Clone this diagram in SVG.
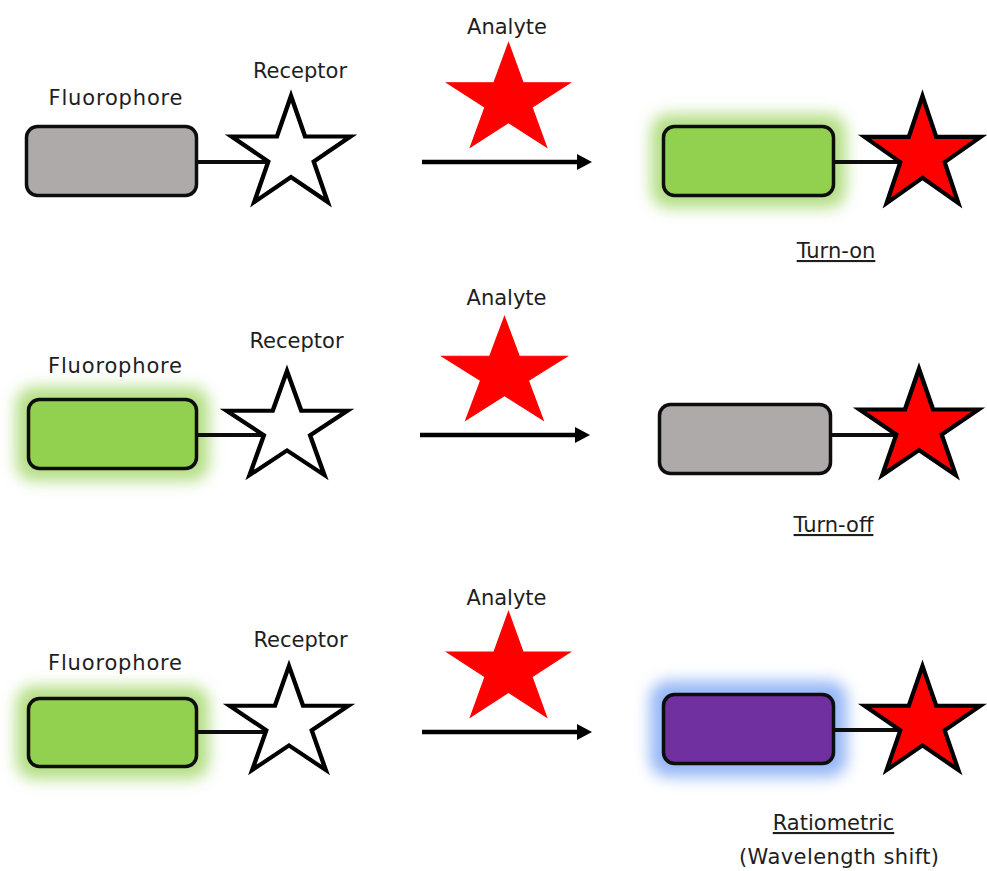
<svg xmlns="http://www.w3.org/2000/svg" xmlns:xlink="http://www.w3.org/1999/xlink" width="987" height="871" viewBox="0 0 987 871">
<style>
  text { font-family: "DejaVu Sans", "Noto Sans", sans-serif; font-size: 21px; fill: #1e1e1e; text-anchor: middle; }
  .u { text-decoration: underline; }
  .box { stroke: #0d0d0d; stroke-width: 3.5; }
  .gray { fill: #AEAAAA; }
  .green { fill: #92D050; }
  .purple { fill: #7030A0; }
  .glowG { fill: #a6d86e; opacity: 0.85; }
  .glowB { fill: #8fb2f5; opacity: 0.95; }
  .link { stroke: #0d0d0d; stroke-width: 4; fill: none; }
  .arrow { stroke: #000; stroke-width: 4.5; fill: none; }
  .head { fill: #000; }
  .rstar { fill: #fff; stroke: #000; stroke-width: 3.5; vector-effect: non-scaling-stroke; stroke-linejoin: miter; }
  .astar { fill: #FF0000; stroke: #FF0000; stroke-width: 1; vector-effect: non-scaling-stroke; }
  .bstar { fill: #FF0000; stroke: #000; stroke-width: 3.5; vector-effect: non-scaling-stroke; }
</style>
<defs>
  <polygon id="star" points="0,-50 11.23,-15.45 47.55,-15.45 18.16,5.9 29.39,40.45 0,19.1 -29.39,40.45 -18.16,5.9 -47.55,-15.45 -11.23,-15.45"/>
  <filter id="blur" x="-40%" y="-80%" width="180%" height="260%">
    <feGaussianBlur stdDeviation="7.5"/>
  </filter>
</defs>
<rect width="987" height="871" fill="#fff"/>

<!-- Fluorophore / signal boxes -->
<g id="fluorophore1">
  <rect class="box gray" x="26.5" y="126.5" width="170" height="69" rx="11"/>
  <text x="115.5" y="105" textLength="134">Fluorophore</text>
</g>
<g id="turnon">
  <rect class="glowG" x="651" y="114" width="195" height="94" rx="18" filter="url(#blur)"/>
  <rect class="box green" x="663.5" y="126.5" width="170" height="69" rx="11"/>
  <text class="u" x="836" y="258" font-size="20">Turn-on</text>
</g>
<g id="fluorophore2">
  <rect class="glowG" x="16" y="387" width="193" height="94" rx="18" filter="url(#blur)"/>
  <rect class="box green" x="28.5" y="399.5" width="168" height="69" rx="11"/>
  <text x="115" y="373" textLength="134">Fluorophore</text>
</g>
<g id="turnoff">
  <rect class="box gray" x="659.5" y="404.5" width="171" height="69" rx="11"/>
  <text class="u" x="833.5" y="532" font-size="20">Turn-off</text>
</g>
<g id="fluorophore3">
  <rect class="glowG" x="16" y="686" width="193" height="93" rx="18" filter="url(#blur)"/>
  <rect class="box green" x="28.5" y="698.5" width="168" height="68" rx="11"/>
  <text x="115" y="670" textLength="134">Fluorophore</text>
</g>
<g id="ratiometric">
  <rect class="glowB" x="650" y="681" width="197" height="96" rx="18" filter="url(#blur)"/>
  <rect class="box purple" x="663.5" y="694.5" width="170" height="69" rx="11"/>
  <text class="u" x="833.5" y="830">Ratiometric</text>
  <text x="839" y="864" textLength="200">(Wavelength shift)</text>
</g>

<g id="connectors">
  <line class="link" x1="198" y1="162" x2="285" y2="162"/>
  <line class="link" x1="835" y1="162" x2="915" y2="162"/>
  <line class="link" x1="198" y1="435" x2="282" y2="435"/>
  <line class="link" x1="832" y1="435" x2="912" y2="435"/>
  <line class="link" x1="198" y1="732" x2="284" y2="732"/>
  <line class="link" x1="835" y1="730" x2="915" y2="730"/>
  <line class="arrow" x1="422" y1="162" x2="578" y2="162"/>
  <polygon class="head" points="577,154 592,162 577,170"/>
  <line class="arrow" x1="420" y1="435" x2="576" y2="435"/>
  <polygon class="head" points="575,427 590,435 575,443"/>
  <line class="arrow" x1="422" y1="732" x2="578" y2="732"/>
  <polygon class="head" points="577,724 592,732 577,740"/>
</g>

<!-- Stars -->
<g id="receptor1">
  <use xlink:href="#star" class="rstar" transform="translate(291,154.6) scale(1.251,1.172)"/>
  <text x="300" y="78">Receptor</text>
</g>
<g id="analyte1">
  <use xlink:href="#star" class="astar" transform="translate(508.5,100.5) scale(1.293,1.15)"/>
  <text x="507" y="34">Analyte</text>
</g>
<g id="bound1">
  <use xlink:href="#star" class="bstar" transform="translate(922.5,155.2) scale(1.22,1.183)"/>
</g>
<g id="receptor2">
  <use xlink:href="#star" class="rstar" transform="translate(287,428.5) scale(1.272,1.15)"/>
  <text x="296.5" y="348">Receptor</text>
</g>
<g id="analyte2">
  <use xlink:href="#star" class="astar" transform="translate(504.5,373.9) scale(1.314,1.139)"/>
  <text x="506.5" y="305">Analyte</text>
</g>
<g id="bound2">
  <use xlink:href="#star" class="bstar" transform="translate(919,427.6) scale(1.251,1.172)"/>
</g>
<g id="receptor3">
  <use xlink:href="#star" class="rstar" transform="translate(289,723.5) scale(1.251,1.15)"/>
  <text x="300.5" y="647">Receptor</text>
</g>
<g id="analyte3">
  <use xlink:href="#star" class="astar" transform="translate(508.5,670) scale(1.293,1.161)"/>
  <text x="506.5" y="605">Analyte</text>
</g>
<g id="bound3">
  <use xlink:href="#star" class="bstar" transform="translate(922.5,723.5) scale(1.22,1.15)"/>
</g>
</svg>
